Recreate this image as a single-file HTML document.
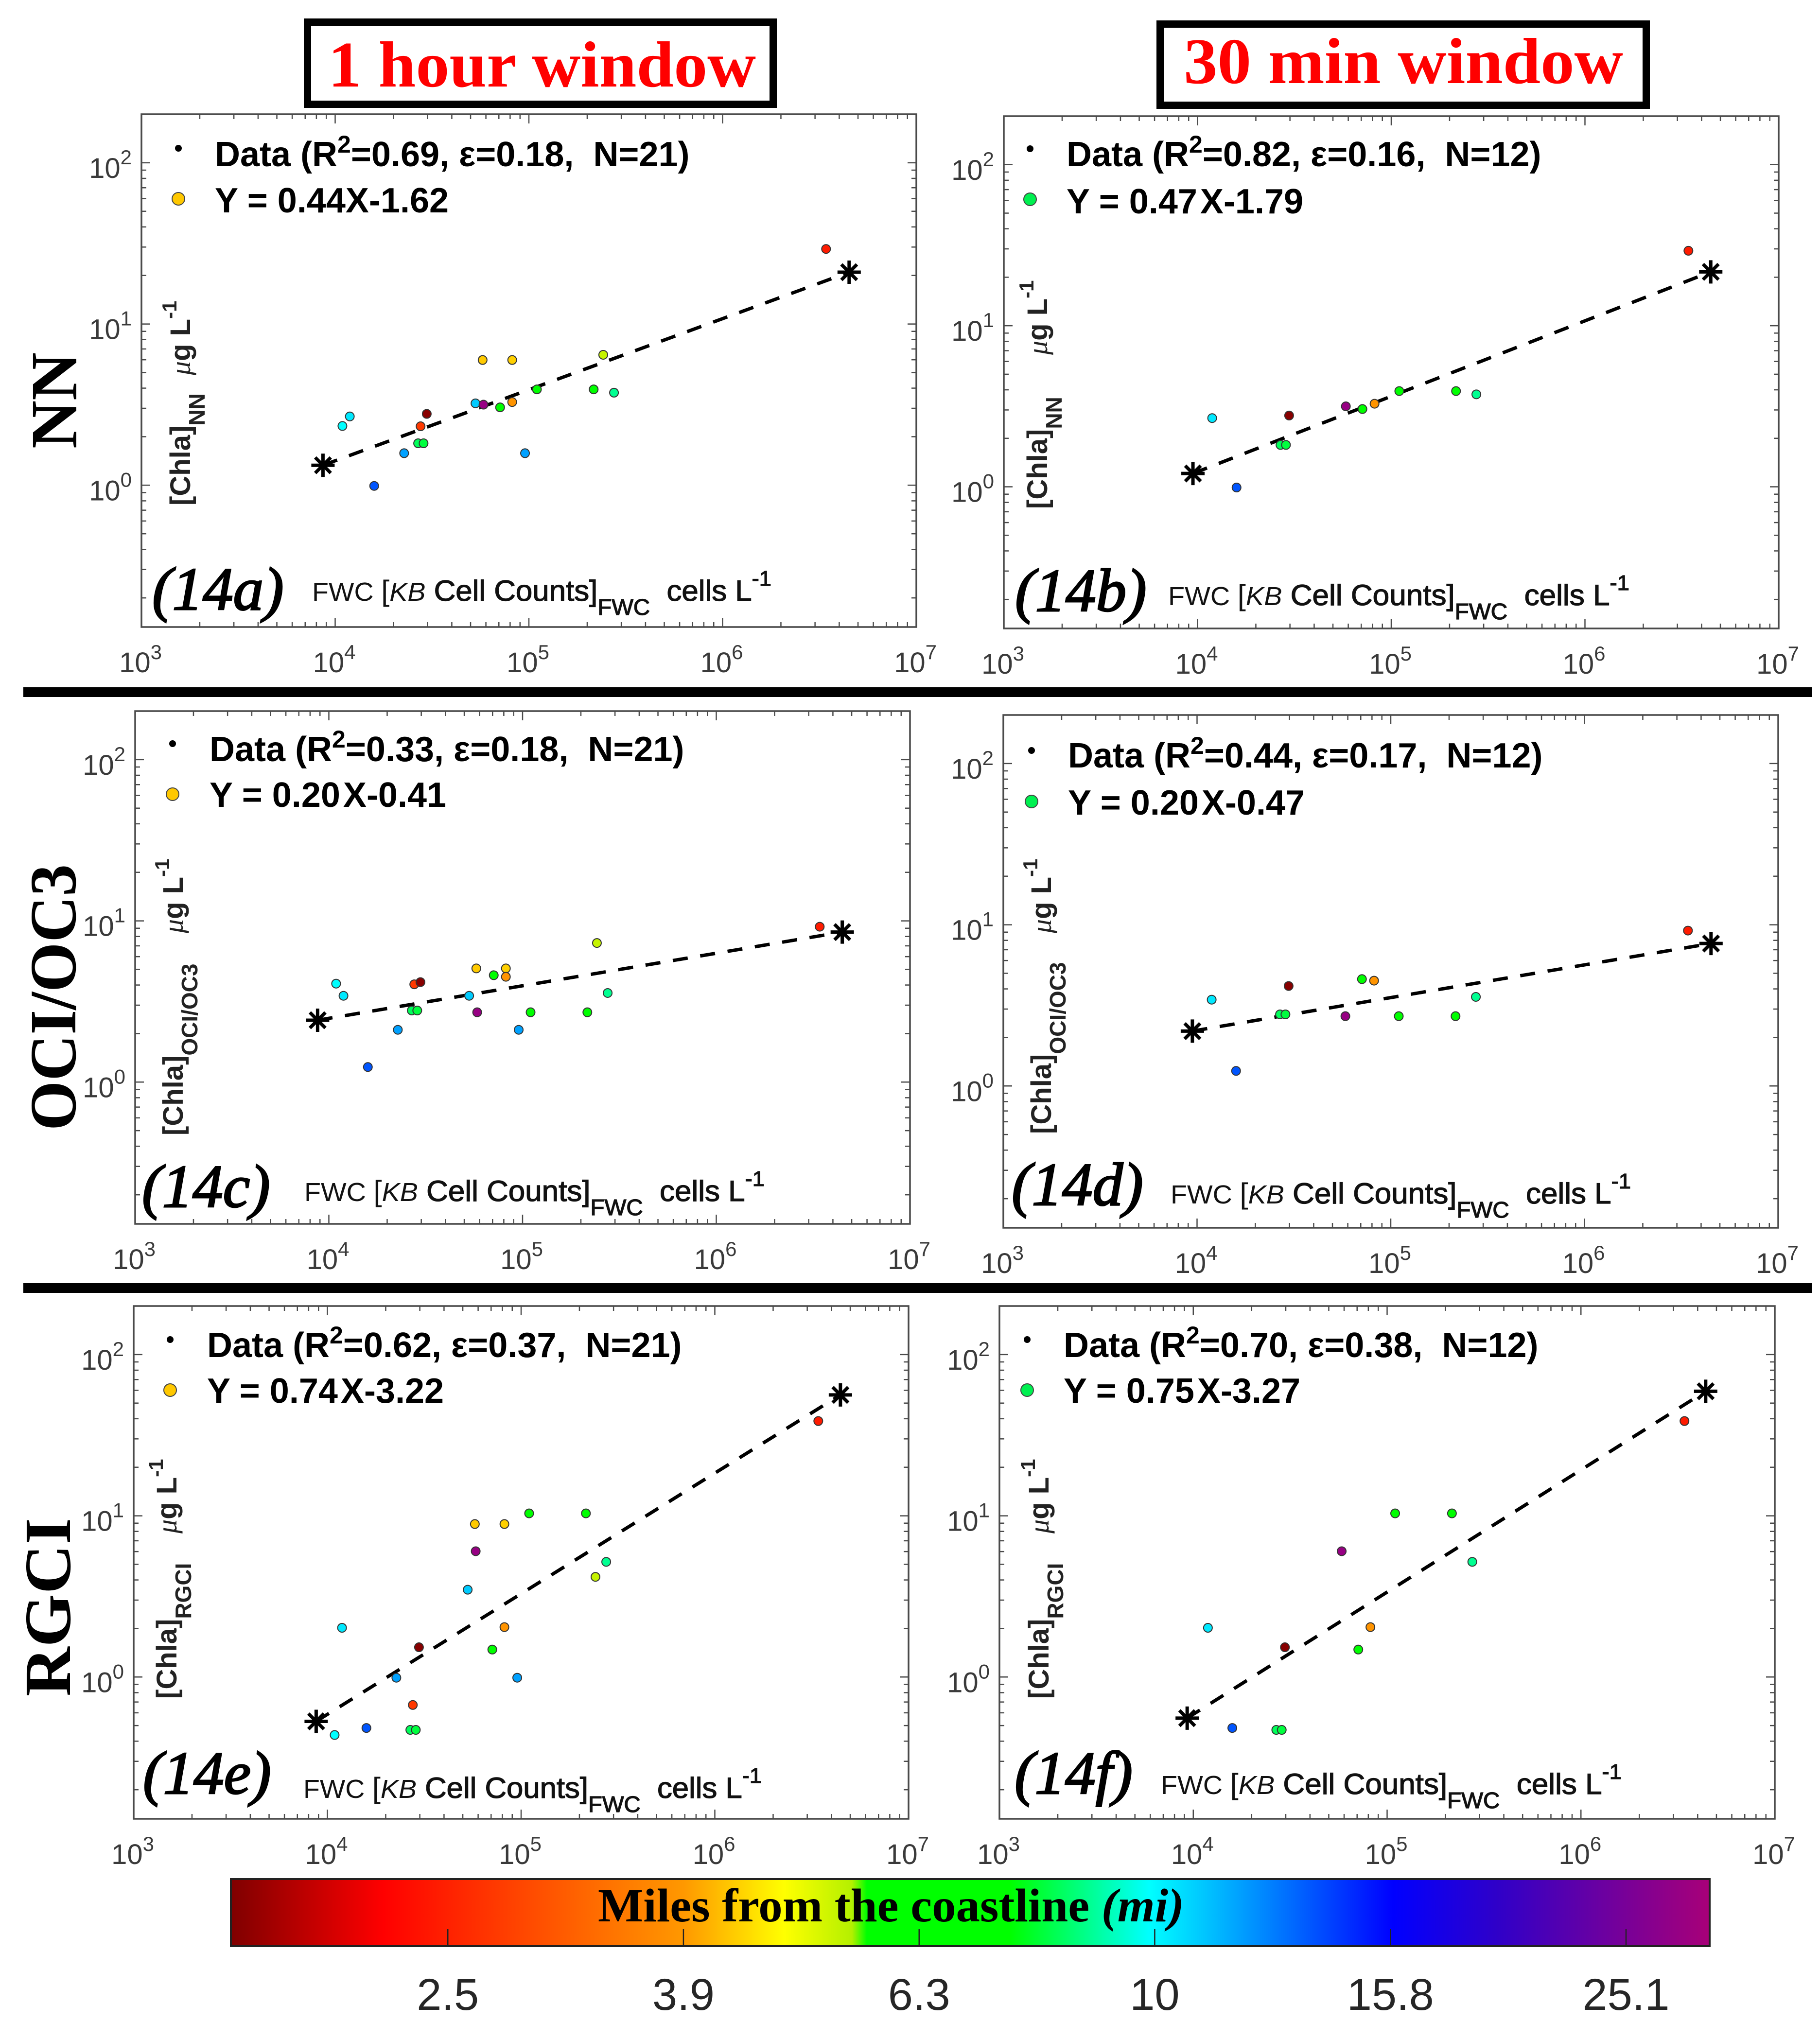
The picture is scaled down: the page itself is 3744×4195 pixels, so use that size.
<!DOCTYPE html>
<html lang="en">
<head>
<meta charset="utf-8">
<title>KB cell counts vs Chla retrievals</title>
<style>
html,body{margin:0;padding:0;background:#fff;}
svg{display:block;}
text{white-space:pre;}
.sans{font-family:"Liberation Sans",sans-serif;}
.serif{font-family:"Liberation Serif",serif;}
.title{font-family:"Liberation Serif",serif;font-weight:bold;font-size:134px;fill:#ff0000;}
.row{font-family:"Liberation Serif",serif;font-weight:bold;font-size:136px;fill:#000;}
.leg{font-family:"Liberation Sans",sans-serif;font-weight:bold;font-size:72px;fill:#000;}
.xl{font-family:"Liberation Sans",sans-serif;font-size:60px;fill:#111;}
.f{font-size:54px;}
.st{stroke:#111;stroke-width:1.3px;}
.yl{font-family:"Liberation Sans",sans-serif;font-weight:bold;font-size:58px;fill:#222;}
.pl{font-family:"Liberation Serif",serif;font-style:italic;font-size:125px;fill:#000;stroke:#000;stroke-width:3px;}
.mu{font-family:"Liberation Serif",serif;font-style:italic;font-weight:normal;}
.i{font-style:italic;}
</style>
</head>
<body>
<svg id="fig" xmlns="http://www.w3.org/2000/svg" width="3744" height="4195" viewBox="0 0 3744 4195">
<rect x="0" y="0" width="3744" height="4195" fill="#fff"/>
<defs><linearGradient id="cmap" x1="0" x2="1" y1="0" y2="0"></linearGradient></defs>

<g>
<rect x="632.5" y="45.5" width="958" height="169" fill="#fff" stroke="#000" stroke-width="15"/>
<text class="title" x="675" y="178" textLength="880" lengthAdjust="spacingAndGlyphs">1 hour window</text>
</g>
<g>
<rect x="2386.5" y="49.5" width="1000" height="167" fill="#fff" stroke="#000" stroke-width="15"/>
<text class="title" x="2435" y="171" textLength="904" lengthAdjust="spacingAndGlyphs">30 min window</text>
</g>

<text class="row" transform="translate(157,923) rotate(-90)" textLength="198" lengthAdjust="spacingAndGlyphs">NN</text>
<text class="row" transform="translate(155,2326) rotate(-90)" textLength="548" lengthAdjust="spacingAndGlyphs">OCI/OC3</text>
<text class="row" transform="translate(144,3490) rotate(-90)" textLength="367" lengthAdjust="spacingAndGlyphs">RGCI</text>

<rect x="48" y="1414" width="3680" height="20" fill="#000"/>
<rect x="48" y="2640" width="3680" height="20" fill="#000"/>

<!-- panel a -->
<g id="panel-a">
<g class="marks"></g>
<circle cx="367" cy="305" r="7" fill="#000"/>
<circle cx="367" cy="409" r="13" fill="#ffc800" stroke="#444" stroke-width="2"/>
<text class="leg" x="442" y="342">Data (R<tspan dy="-28" font-size="50">2</tspan><tspan dy="28">=0.69, ε=0.18,  N=21)</tspan></text>
<text class="leg" x="442" y="437">Y = 0.44X-1.62</text>
<g transform="translate(391,1040) rotate(-90)">
<text class="yl" x="0" y="0">[Chla]<tspan dy="30" font-size="46">NN</tspan></text>
<text class="yl" x="268" y="0"><tspan class="mu">μ</tspan>g L<tspan dy="-28" font-size="42">-1</tspan></text>
</g>
<text class="pl" x="313" y="1254">(14a)</text>
<text class="xl" x="642" y="1236" textLength="945" lengthAdjust="spacingAndGlyphs"><tspan class="f">FWC </tspan>[<tspan class="i f">KB</tspan> <tspan class="st">Cell Counts]</tspan><tspan class="st" dy="29" font-size="46">FWC</tspan><tspan class="st" dy="-29">  cells L</tspan><tspan class="st" dy="-31" font-size="44">-1</tspan></text>
</g>

<!-- panel b -->
<g id="panel-b">
<g class="marks"></g>
<circle cx="2119" cy="306" r="7" fill="#000"/>
<circle cx="2119" cy="410" r="13" fill="#00f050" stroke="#444" stroke-width="2"/>
<text class="leg" x="2194" y="342">Data (R<tspan dy="-28" font-size="50">2</tspan><tspan dy="28">=0.82, ε=0.16,  N=12)</tspan></text>
<text class="leg" x="2194" y="439">Y = 0.47<tspan dx="6">X-1.79</tspan></text>
<g transform="translate(2154,1047) rotate(-90)">
<text class="yl" x="0" y="0">[Chla]<tspan dy="30" font-size="46">NN</tspan></text>
<text class="yl" x="317" y="0"><tspan class="mu">μ</tspan>g L<tspan dy="-28" font-size="42">-1</tspan></text>
</g>
<text class="pl" x="2088" y="1257">(14b)</text>
<text class="xl" x="2403" y="1245" textLength="949" lengthAdjust="spacingAndGlyphs"><tspan class="f">FWC </tspan>[<tspan class="i f">KB</tspan> <tspan class="st">Cell Counts]</tspan><tspan class="st" dy="29" font-size="46">FWC</tspan><tspan class="st" dy="-29">  cells L</tspan><tspan class="st" dy="-31" font-size="44">-1</tspan></text>
</g>

<!-- panel c -->
<g id="panel-c">
<g class="marks"></g>
<circle cx="355" cy="1530" r="7" fill="#000"/>
<circle cx="355" cy="1634" r="13" fill="#ffc800" stroke="#444" stroke-width="2"/>
<text class="leg" x="431" y="1566">Data (R<tspan dy="-28" font-size="50">2</tspan><tspan dy="28">=0.33, ε=0.18,  N=21)</tspan></text>
<text class="leg" x="431" y="1660">Y = 0.20<tspan dx="6">X-0.41</tspan></text>
<g transform="translate(376,2336) rotate(-90)">
<text class="yl" x="0" y="0">[Chla]<tspan dy="30" font-size="46">OCI/OC3</tspan></text>
<text class="yl" x="416" y="0"><tspan class="mu">μ</tspan>g L<tspan dy="-28" font-size="42">-1</tspan></text>
</g>
<text class="pl" x="292" y="2483">(14c)</text>
<text class="xl" x="626" y="2471" textLength="947" lengthAdjust="spacingAndGlyphs"><tspan class="f">FWC </tspan>[<tspan class="i f">KB</tspan> <tspan class="st">Cell Counts]</tspan><tspan class="st" dy="29" font-size="46">FWC</tspan><tspan class="st" dy="-29">  cells L</tspan><tspan class="st" dy="-31" font-size="44">-1</tspan></text>
</g>

<!-- panel d -->
<g id="panel-d">
<g class="marks"></g>
<circle cx="2122" cy="1544" r="7" fill="#000"/>
<circle cx="2122" cy="1649" r="13" fill="#00f050" stroke="#444" stroke-width="2"/>
<text class="leg" x="2197" y="1579">Data (R<tspan dy="-28" font-size="50">2</tspan><tspan dy="28">=0.44, ε=0.17,  N=12)</tspan></text>
<text class="leg" x="2197" y="1676">Y = 0.20<tspan dx="6">X-0.47</tspan></text>
<g transform="translate(2162,2333) rotate(-90)">
<text class="yl" x="0" y="0">[Chla]<tspan dy="30" font-size="46">OCI/OC3</tspan></text>
<text class="yl" x="413" y="0"><tspan class="mu">μ</tspan>g L<tspan dy="-28" font-size="42">-1</tspan></text>
</g>
<text class="pl" x="2081" y="2479">(14d)</text>
<text class="xl" x="2408" y="2476" textLength="947" lengthAdjust="spacingAndGlyphs"><tspan class="f">FWC </tspan>[<tspan class="i f">KB</tspan> <tspan class="st">Cell Counts]</tspan><tspan class="st" dy="29" font-size="46">FWC</tspan><tspan class="st" dy="-29">  cells L</tspan><tspan class="st" dy="-31" font-size="44">-1</tspan></text>
</g>

<!-- panel e -->
<g id="panel-e">
<g class="marks"></g>
<circle cx="350" cy="2756" r="7" fill="#000"/>
<circle cx="350" cy="2860" r="13" fill="#ffc800" stroke="#444" stroke-width="2"/>
<text class="leg" x="426" y="2792">Data (R<tspan dy="-28" font-size="50">2</tspan><tspan dy="28">=0.62, ε=0.37,  N=21)</tspan></text>
<text class="leg" x="426" y="2886">Y = 0.74<tspan dx="6">X-3.22</tspan></text>
<g transform="translate(363,3495) rotate(-90)">
<text class="yl" x="0" y="0">[Chla]<tspan dy="30" font-size="46">RGCI</tspan></text>
<text class="yl" x="340" y="0"><tspan class="mu">μ</tspan>g L<tspan dy="-28" font-size="42">-1</tspan></text>
</g>
<text class="pl" x="294" y="3690">(14e)</text>
<text class="xl" x="624" y="3699" textLength="943" lengthAdjust="spacingAndGlyphs"><tspan class="f">FWC </tspan>[<tspan class="i f">KB</tspan> <tspan class="st">Cell Counts]</tspan><tspan class="st" dy="29" font-size="46">FWC</tspan><tspan class="st" dy="-29">  cells L</tspan><tspan class="st" dy="-31" font-size="44">-1</tspan></text>
</g>

<!-- panel f -->
<g id="panel-f">
<g class="marks"></g>
<circle cx="2113" cy="2756" r="7" fill="#000"/>
<circle cx="2113" cy="2860" r="13" fill="#00f050" stroke="#444" stroke-width="2"/>
<text class="leg" x="2188" y="2792">Data (R<tspan dy="-28" font-size="50">2</tspan><tspan dy="28">=0.70, ε=0.38,  N=12)</tspan></text>
<text class="leg" x="2188" y="2886">Y = 0.75<tspan dx="6">X-3.27</tspan></text>
<g transform="translate(2157,3495) rotate(-90)">
<text class="yl" x="0" y="0">[Chla]<tspan dy="30" font-size="46">RGCI</tspan></text>
<text class="yl" x="340" y="0"><tspan class="mu">μ</tspan>g L<tspan dy="-28" font-size="42">-1</tspan></text>
</g>
<text class="pl" x="2087" y="3690">(14f)</text>
<text class="xl" x="2388" y="3691" textLength="948" lengthAdjust="spacingAndGlyphs"><tspan class="f">FWC </tspan>[<tspan class="i f">KB</tspan> <tspan class="st">Cell Counts]</tspan><tspan class="st" dy="29" font-size="46">FWC</tspan><tspan class="st" dy="-29">  cells L</tspan><tspan class="st" dy="-31" font-size="44">-1</tspan></text>
</g>

<!-- colorbar -->
<g id="colorbar">
<rect x="475" y="3866" width="3042" height="138" fill="url(#cmap)" stroke="#222" stroke-width="4"/>
<text class="serif" x="1230" y="3953" font-size="98" font-weight="bold" fill="#000" textLength="1206" lengthAdjust="spacingAndGlyphs">Miles from the coastline <tspan class="i">(mi)</tspan></text>
</g>

<script>
// ---- shared data ----
const cellCounts = [1.09e4,1.19e4,1.59e4,2.27e4,2.68e4,2.86e4,2.76e4,2.97e4,5.3e4,5.83e4,5.77e4,7.1e4,8.2e4,8.2e4,9.55e4,1.1e5,2.16e5,2.42e5,2.75e5,3.42e6];
const milesFromCoast = [9.9,10.3,13.6,11.8,8.3,8.05,2.76,1.68,10.9,27.9,4.38,7.4,4.43,3.91,11.8,7.0,7.0,5.37,8.8,2.46];
const chlaNN = [2.33,2.67,0.99,1.58,1.82,1.82,2.32,2.77,3.22,3.16,5.98,3.04,5.98,3.28,1.58,3.93,3.93,6.44,3.75,29.2];
const chlaOCI = [4.08,3.43,1.24,2.11,2.78,2.78,4.04,4.17,3.43,2.71,5.07,4.60,5.07,4.50,2.11,2.71,2.71,7.29,3.57,9.2];
const chlaRGCI = [0.437,2.02,0.483,0.99,0.47,0.47,0.671,1.53,3.48,6.03,8.89,1.48,8.89,2.04,0.99,10.35,10.35,4.18,5.18,38.7];
const window1h = [0,1,2,3,4,5,6,7,8,9,10,11,12,13,14,15,16,17,18,19];
const window30min = [1,2,4,5,7,9,11,13,15,16,18,19];

// fit line end points (x, y) in each panel
const fitXa = [8.65e3,4.5e6];
const fitYa = [1.33,20.95];
const fitXb = [9.47e3,4.46e6];
const fitYb = [1.21,21.6];
const fitXc = [8.75e3,4.47e6];
const fitYc = [2.42,8.52];
const fitXd = [9.46e3,4.5e6];
const fitYd = [2.19,7.65];
const fitXe = [8.75e3,4.45e6];
const fitYe = [0.531,56.2];
const fitXf = [9.3e3,4.4e6];
const fitYf = [0.556,59.2];

const xTickExponents = [3,4,5,6,7];
const yTickExponents = [0,1,2];
const xLimits = [1e3,1e7];
const yLimits = [0.132,200];
const colorLimits = [1.644,29.58];
const colorTicks = [2.512,3.981,6.31,10,15.85,25.12];
const colorTickLabels = ['2.5','3.9','6.3','10','15.8','25.1'];
const cmapPos = [0,0.103,0.307,0.374,0.42,0.43,0.527,0.621,0.786,0.857,1];
const cmapColor = ['#7f0000','#ff0000','#ff9900','#ffff00','#b4f000','#00ff00','#00ff00','#00ffff','#0000ff','#3000c8','#a80078'];

// ---- layout ----
const NS = 'http://www.w3.org/2000/svg';
const panelSetup = [
  {id:'a',L:291,R:1885,T:235,B:1290,series:chlaNN,idx:window1h,fx:fitXa,fy:fitYa},
  {id:'b',L:2065,R:3659,T:239,B:1293,series:chlaNN,idx:window30min,fx:fitXb,fy:fitYb},
  {id:'c',L:278,R:1872,T:1463,B:2518,series:chlaOCI,idx:window1h,fx:fitXc,fy:fitYc},
  {id:'d',L:2064,R:3658,T:1471,B:2526,series:chlaOCI,idx:window30min,fx:fitXd,fy:fitYd},
  {id:'e',L:275,R:1869,T:2687,B:3742,series:chlaRGCI,idx:window1h,fx:fitXe,fy:fitYe},
  {id:'f',L:2056,R:3651,T:2687,B:3742,series:chlaRGCI,idx:window30min,fx:fitXf,fy:fitYf}
];

function mk(tag, attrs, parent){
  const e = document.createElementNS(NS, tag);
  for (const k in attrs) e.setAttribute(k, attrs[k]);
  parent.appendChild(e);
  return e;
}
function cmapAt(f){
  f = Math.max(0, Math.min(1, f));
  let i = 0;
  while (i < cmapPos.length - 2 && f > cmapPos[i+1]) i++;
  const t = (f - cmapPos[i]) / (cmapPos[i+1] - cmapPos[i]);
  const a = cmapColor[i], b = cmapColor[i+1];
  const ch = (s, n) => parseInt(s.substr(1 + 2*n, 2), 16);
  const c = [0,1,2].map(n => Math.round(ch(a,n) + (ch(b,n) - ch(a,n)) * t));
  return 'rgb(' + c.join(',') + ')';
}
function colorFrac(m){
  return (Math.log10(m) - Math.log10(colorLimits[0])) / (Math.log10(colorLimits[1]) - Math.log10(colorLimits[0]));
}

function drawPanel(p){
  const host = document.querySelector('#panel-' + p.id + ' .marks');
  const sx = v => p.L + (Math.log10(v) - Math.log10(xLimits[0])) / (Math.log10(xLimits[1]) - Math.log10(xLimits[0])) * (p.R - p.L);
  const sy = v => p.B - (Math.log10(v) - Math.log10(yLimits[0])) / (Math.log10(yLimits[1]) - Math.log10(yLimits[0])) * (p.B - p.T);

  const frame = mk('rect', {x:p.L, y:p.T, width:p.R-p.L, height:p.B-p.T, fill:'#fff', stroke:'#4a4a4a', 'stroke-width':3.5}, host);
  
  

  // x ticks
  for (let k = xTickExponents[0]; k <= xTickExponents[xTickExponents.length-1]; k++){
    for (let m = 1; m <= 9; m++){
      const v = m * Math.pow(10, k);
      if (v > xLimits[1]) break;
      const len = m === 1 ? 19 : 10;
      const bt = mk('line', {x1:sx(v), x2:sx(v), y1:p.B, y2:p.B-len, stroke:'#4a4a4a', 'stroke-width':2.5}, host);
      
      
      const tt = mk('line', {x1:sx(v), x2:sx(v), y1:p.T, y2:p.T+len, stroke:'#4a4a4a', 'stroke-width':2.5}, host);
      
      
    }
  }
  xTickExponents.forEach(k => {
    const t = mk('text', {x:sx(Math.pow(10,k))-2, y:p.B+93, 'text-anchor':'middle', 'font-size':58, fill:'#3a3a3a', class:'sans'}, host);
    
    
    t.textContent = '10';
    const s = mk('tspan', {dy:-27, 'font-size':42}, t);
    s.textContent = String(k);
  });

  // y ticks
  for (let k = -1; k <= 2; k++){
    for (let m = 1; m <= 9; m++){
      const v = m * Math.pow(10, k);
      if (v < yLimits[0] || v > yLimits[1]) continue;
      const len = m === 1 ? 18 : 10;
      const lt = mk('line', {y1:sy(v), y2:sy(v), x1:p.L, x2:p.L+len, stroke:'#4a4a4a', 'stroke-width':2.5}, host);
      
      
      const rt = mk('line', {y1:sy(v), y2:sy(v), x1:p.R, x2:p.R-len, stroke:'#4a4a4a', 'stroke-width':2.5}, host);
      
      
    }
  }
  yTickExponents.forEach(k => {
    const t = mk('text', {x:p.L-20, y:sy(Math.pow(10,k))+31, 'text-anchor':'end', 'font-size':58, fill:'#3a3a3a', class:'sans'}, host);
    
    
    t.textContent = '10';
    const s = mk('tspan', {dy:-28, 'font-size':42}, t);
    s.textContent = String(k);
  });

  // fit line
  const fit = mk('line', {x1:sx(p.fx[0]), y1:sy(p.fy[0]), x2:sx(p.fx[1]), y2:sy(p.fy[1]), stroke:'#000', 'stroke-width':7, 'stroke-dasharray':'31 26'}, host);
  
  

  // data points
  p.idx.forEach(i => {
    const c = mk('circle', {cx:sx(cellCounts[i]), cy:sy(p.series[i]), r:9, fill:cmapAt(colorFrac(milesFromCoast[i])), stroke:'#333', 'stroke-width':2}, host);
    
    
  });

  // fit end stars
  [0,1].forEach(j => {
    const cx = sx(p.fx[j]), cy = sy(p.fy[j]);
    const g = mk('g', {stroke:'#000', 'stroke-width':7}, host);
    
    
    mk('line', {x1:cx-24, x2:cx+24, y1:cy, y2:cy}, g);
    mk('line', {x1:cx, x2:cx, y1:cy-24, y2:cy+24}, g);
    mk('line', {x1:cx-16, x2:cx+16, y1:cy-16, y2:cy+16}, g);
    mk('line', {x1:cx-16, x2:cx+16, y1:cy+16, y2:cy-16}, g);
  });
}
panelSetup.forEach(drawPanel);

// ---- colorbar ----
const grad = document.getElementById('cmap');
cmapPos.forEach((f, i) => {
  mk('stop', {offset:f, 'stop-color':cmapColor[i]}, grad);
});
const cbHost = document.getElementById('colorbar');
const cbX = v => 475 + colorFrac(v) * 3042;
colorTicks.forEach((v, i) => {
  const l = mk('line', {x1:cbX(v), x2:cbX(v), y1:3969, y2:4004, stroke:'#222', 'stroke-width':2.5}, cbHost);
  
  
  const t = mk('text', {x:cbX(v), y:4135, 'text-anchor':'middle', 'font-size':92, fill:'#262626', class:'sans'}, cbHost);
  
  
  t.textContent = colorTickLabels[i];
});
</script>
</svg>
</body>
</html>
